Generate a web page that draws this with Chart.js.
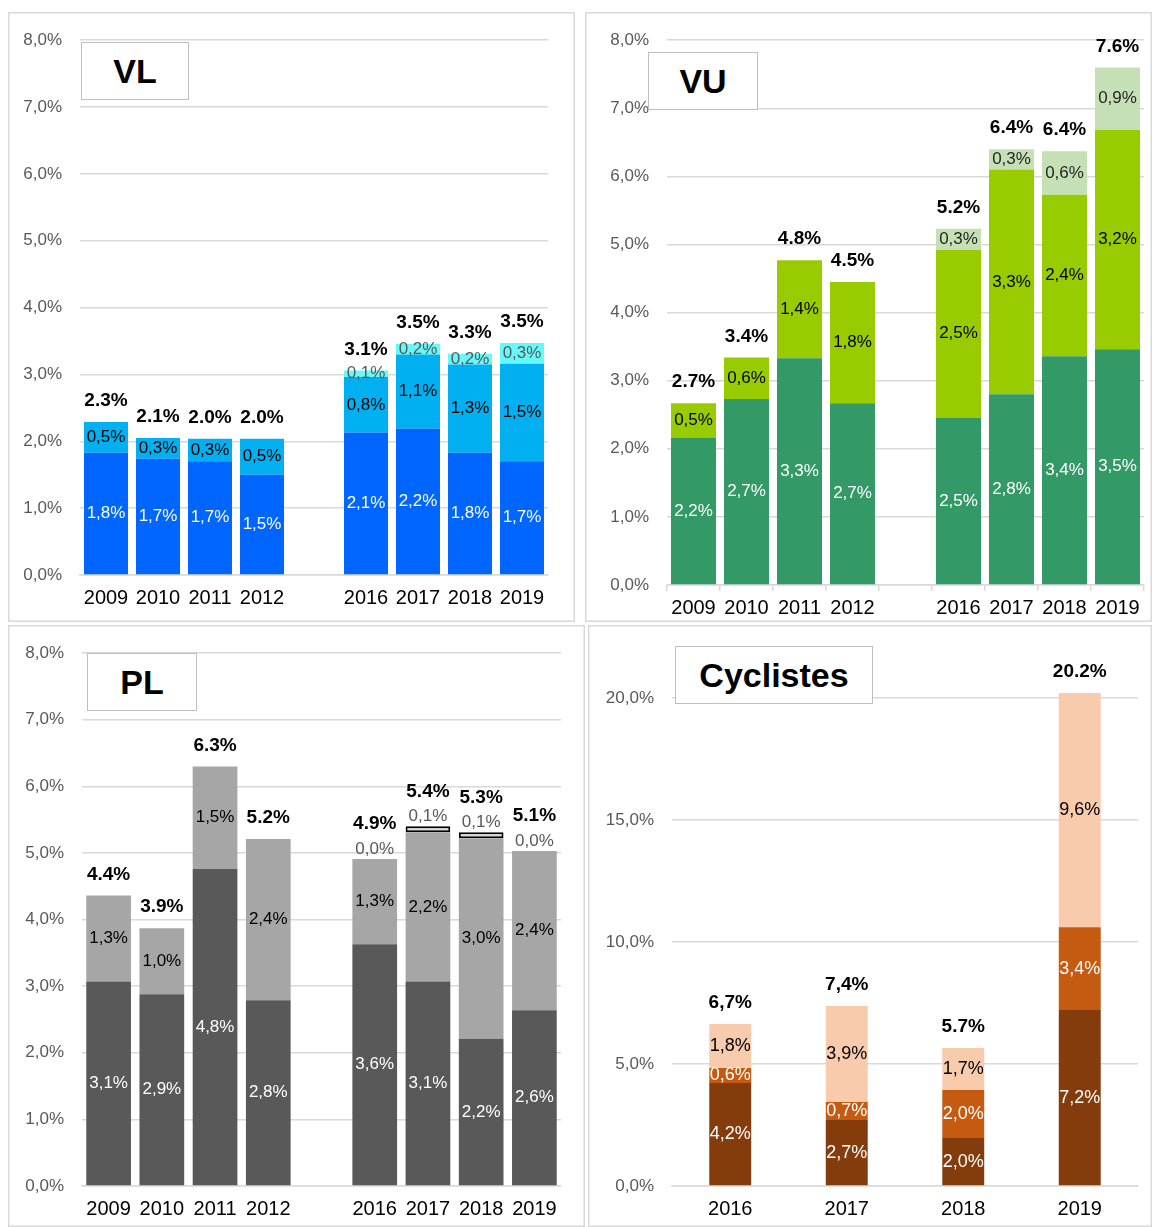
<!DOCTYPE html>
<html>
<head>
<meta charset="utf-8">
<script src="https://cdn.jsdelivr.net/npm/chart.js@4.4.1/dist/chart.umd.min.js"></script>
<style>
  body { margin: 0; background: #fff; font-family: "Liberation Sans", Arial, sans-serif; }
  .panel { position: absolute; box-shadow: inset 0 0 0 1.5px #d9d9d9; }
  .panel canvas { position: absolute; left: 0; top: 0; }
  .tag {
    position: absolute; box-sizing: border-box; background: #fff;
    border: 1.5px solid #bfbfbf; font-weight: bold; font-size: 34px;
    display: flex; align-items: center; justify-content: center; color: #000;
  }
</style>
</head>
<body>
<div class="panel" style="left:8px;top:12px;width:567px;height:610px"><canvas id="vl" width="567" height="610"></canvas></div>
<div class="panel" style="left:585px;top:12px;width:567px;height:610px"><canvas id="vu" width="567" height="610"></canvas></div>
<div class="panel" style="left:8px;top:625px;width:577px;height:602px"><canvas id="pl" width="577" height="602"></canvas></div>
<div class="panel" style="left:588px;top:625px;width:564px;height:602px"><canvas id="cyc" width="564" height="602"></canvas></div>

<div class="tag" style="left:81px;top:42px;width:108px;height:58px">VL</div>
<div class="tag" style="left:648px;top:52px;width:110px;height:58px">VU</div>
<div class="tag" style="left:87px;top:653px;width:110px;height:58px">PL</div>
<div class="tag" style="left:675px;top:646px;width:198px;height:58px">Cyclistes</div>

<script>
// years, with an empty slot between 2012 and 2016
const years = ['2009', '2010', '2011', '2012', '', '2016', '2017', '2018', '2019'];
const cycYears = ['2016', '2017', '2018', '2019'];

// VL (%)
const vlBase = [1.83, 1.74, 1.70, 1.50, null, 2.13, 2.19, 1.83, 1.70];
const vlMid = [0.46, 0.31, 0.34, 0.54, null, 0.83, 1.11, 1.32, 1.46];
const vlTop = [null, null, null, null, null, 0.10, 0.16, 0.16, 0.31];
const vlTotals = ['2.3%', '2.1%', '2.0%', '2.0%', '', '3.1%', '3.5%', '3.3%', '3.5%'];

// VU (%)
const vuBase = [2.16, 2.73, 3.33, 2.67, null, 2.46, 2.80, 3.36, 3.46];
const vuMid = [0.51, 0.61, 1.44, 1.78, null, 2.46, 3.30, 2.37, 3.22];
const vuTop = [null, null, null, null, null, 0.31, 0.30, 0.64, 0.92];
const vuTotals = ['2.7%', '3.4%', '4.8%', '4.5%', '', '5.2%', '6.4%', '6.4%', '7.6%'];

// PL (%)
const plBase = [3.07, 2.88, 4.76, 2.79, null, 3.63, 3.07, 2.21, 2.64];
const plMid = [1.29, 0.99, 1.54, 2.42, null, 1.28, 2.24, 3.01, 2.39];
const plTop = [null, null, null, null, null, 0.0, 0.09, 0.09, 0.0];
const plTotals = ['4.4%', '3.9%', '6.3%', '5.2%', '', '4.9%', '5.4%', '5.3%', '5.1%'];

// Cyclistes (%)
const cycBase = [4.22, 2.70, 1.97, 7.21];
const cycMid = [0.62, 0.74, 1.96, 3.39];
const cycTop = [1.80, 3.94, 1.73, 9.60];
const cycTotals = ['6,7%', '7,4%', '5.7%', '20.2%'];

const FONT = '"Liberation Sans", Arial, sans-serif';
Chart.defaults.font.family = FONT;

const fmt = v => v.toFixed(1).replace('.', ',') + '%';

const segLabels = {
  id: 'segLabels',
  afterDatasetsDraw(chart, args, opts) {
    const ctx = chart.ctx;
    const tops = [];
    const raised = [];
    ctx.save();
    ctx.textAlign = 'center';
    ctx.textBaseline = 'middle';
    chart.data.datasets.forEach((ds, i) => {
      const meta = chart.getDatasetMeta(i);
      meta.data.forEach((bar, j) => {
        const v = ds.data[j];
        if (v === null || v === undefined) return;
        tops[j] = tops[j] === undefined ? bar.y : Math.min(tops[j], bar.y);
        let y = (bar.y + bar.base) / 2;
        if (ds.labelAbove) {
          y = bar.y - 10;
          raised[j] = true;
        }
        ctx.font = opts.size + 'px ' + FONT;
        ctx.fillStyle = ds.labelColor;
        ctx.fillText(fmt(v), bar.x, y);
      });
    });
    ctx.font = 'bold 19px ' + FONT;
    ctx.fillStyle = '#000';
    const xScale = chart.scales.x;
    opts.totals.forEach((t, j) => {
      if (!t || tops[j] === undefined) return;
      const off = raised[j] ? 35 : 21;
      ctx.fillText(t, xScale.getPixelForValue(j), tops[j] - off);
    });
    ctx.restore();
  }
};

function makeChart(id, cfg) {
  const tickLen = cfg.xTicks ? 6 : 0;
  return new Chart(document.getElementById(id), {
    type: 'bar',
    data: { labels: cfg.labels, datasets: cfg.datasets },
    options: {
      responsive: false,
      animation: false,
      layout: { padding: { top: cfg.top, right: cfg.right, left: 0, bottom: 0 } },
      datasets: { bar: { categoryPercentage: 1, barPercentage: cfg.barPct } },
      plugins: {
        legend: { display: false },
        tooltip: { enabled: false },
        segLabels: { totals: cfg.totals, size: cfg.labelSize || 17 }
      },
      scales: {
        x: {
          stacked: true,
          grid: {
            display: !!cfg.xTicks, drawOnChartArea: false, drawTicks: !!cfg.xTicks,
            tickLength: tickLen, color: '#d9d9d9', lineWidth: 1.5
          },
          border: { color: '#d9d9d9', width: 1.5 },
          ticks: { color: '#000', font: { size: 20 }, padding: 11 - tickLen, autoSkip: false, maxRotation: 0 },
          afterFit: s => { s.height = cfg.xHeight; }
        },
        y: {
          stacked: true,
          min: 0,
          max: cfg.max,
          grid: { color: '#d9d9d9', lineWidth: 1.5, drawTicks: false },
          border: { display: false },
          ticks: {
            stepSize: cfg.step,
            color: '#595959',
            font: { size: 17 },
            padding: 18,
            callback: v => fmt(v)
          },
          afterBuildTicks: s => { s.ticks = s.ticks.filter(t => Math.abs(t.value / cfg.step - Math.round(t.value / cfg.step)) < 1e-6); },
          afterFit: s => { s.width = cfg.yWidth; }
        }
      }
    },
    plugins: [segLabels]
  });
}

function ds(data, color, labelColor, extra) {
  return Object.assign({ data: data, backgroundColor: color, labelColor: labelColor, borderWidth: 0 }, extra || {});
}

makeChart('vl', {
  labels: years, totals: vlTotals, max: 8, step: 1,
  top: 25, right: 27, yWidth: 72, xHeight: 47, barPct: 0.846,
  datasets: [
    ds(vlBase, '#0066ff', '#ffffff'),
    ds(vlMid, '#00b0f0', '#000000'),
    ds(vlTop, '#66f9f9', '#595959')
  ]
});

makeChart('vu', {
  labels: years, totals: vuTotals, max: 8, step: 1, xTicks: true,
  top: 27, right: 8, yWidth: 82, xHeight: 37, barPct: 0.85,
  datasets: [
    ds(vuBase, '#339966', '#ffffff'),
    ds(vuMid, '#99cc00', '#000000'),
    ds(vuTop, '#c5e0b4', '#262626')
  ]
});

makeChart('pl', {
  labels: years, totals: plTotals, max: 8, step: 1,
  top: 25, right: 24, yWidth: 74, xHeight: 41, barPct: 0.84,
  datasets: [
    ds(plBase, '#595959', '#ffffff'),
    ds(plMid, '#a6a6a6', '#000000'),
    ds(plTop, '#d9d9d9', '#595959', {
      labelAbove: true,
      borderColor: '#000',
      borderSkipped: false,
      borderWidth: c => (c.raw > 0 ? 2 : 0)
    })
  ]
});

makeChart('cyc', {
  labels: cycYears, totals: cycTotals, max: 21, step: 5,
  top: 48.6, right: 14, yWidth: 84, xHeight: 41, barPct: 0.36, labelSize: 18,
  datasets: [
    ds(cycBase, '#843c0c', '#ffffff'),
    ds(cycMid, '#c55a11', '#ffffff'),
    ds(cycTop, '#f8cbad', '#000000')
  ]
});
</script>
</body>
</html>
